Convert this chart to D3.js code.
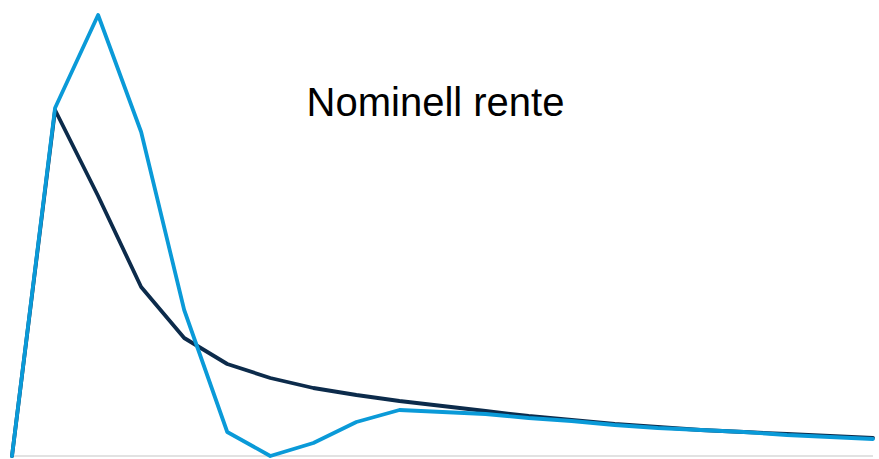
<!DOCTYPE html>
<html><head><meta charset="utf-8">
<script src="https://cdn.jsdelivr.net/npm/d3@7"></script>
<style>html,body{margin:0;padding:0;background:#fff;}svg{display:block;}</style>
</head><body>
<svg id="chart" width="879" height="459"></svg>
<script>
const periods = d3.range(0, 21);
const seriesDark = [0, 3.46, 2.60, 1.69, 1.18, 0.92, 0.78, 0.68, 0.61, 0.55, 0.50, 0.45, 0.40, 0.36, 0.32, 0.29, 0.26, 0.24, 0.22, 0.20, 0.18];
const seriesBlue = [0, 3.48, 4.41, 3.24, 1.46, 0.24, 0.00, 0.13, 0.34, 0.46, 0.44, 0.42, 0.38, 0.35, 0.31, 0.28, 0.26, 0.24, 0.21, 0.19, 0.17];
const title = "Nominell rente";

const svg = d3.select("#chart");
const x = d3.scaleLinear().domain([0, 20]).range([12, 873]);
const y = d3.scaleLinear().domain([0, 4.41]).range([456, 15]);

svg.append("line")
  .attr("x1", x(0)).attr("x2", x(20))
  .attr("y1", y(0)).attr("y2", y(0))
  .attr("stroke", "#d9d9d9").attr("stroke-width", 1.5);

const line = d3.line().x((d, i) => x(periods[i])).y(d => y(d));

svg.append("path").datum(seriesDark)
  .attr("d", line).attr("fill", "none")
  .attr("stroke", "#0c2b4b").attr("stroke-width", 3.8)
  .attr("stroke-linejoin", "round").attr("stroke-linecap", "round");

svg.append("path").datum(seriesBlue)
  .attr("d", line).attr("fill", "none")
  .attr("stroke", "#0a9ad8").attr("stroke-width", 3.8)
  .attr("stroke-linejoin", "round").attr("stroke-linecap", "round");

svg.append("text")
  .attr("x", 435.5).attr("y", 116)
  .attr("text-anchor", "middle")
  .attr("font-family", "Liberation Sans, Arial, sans-serif")
  .attr("font-size", 40)
  .attr("fill", "#000")
  .text(title);
</script>
</body></html>
